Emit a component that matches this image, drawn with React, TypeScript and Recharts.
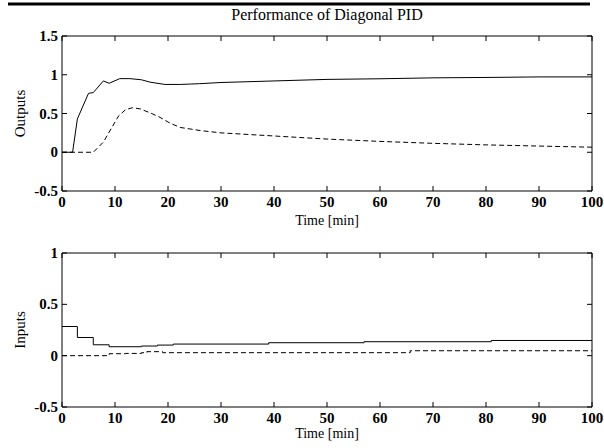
import React from 'react';
import { LineChart, Line, XAxis, YAxis } from 'recharts';

const FONT = "'Liberation Serif', 'Times New Roman', Times, serif";

// ---- data ----
const xTicks = [0, 10, 20, 30, 40, 50, 60, 70, 80, 90, 100];
const outTicks = [-0.5, 0, 0.5, 1, 1.5];
const inTicks = [-0.5, 0, 0.5, 1];

const outTime1 = [0, 2, 2.9, 5, 5.9, 7.8, 8.9, 10.9, 12.8, 15, 16.6, 19.4, 22.3, 24.2, 26, 30, 40, 50, 60, 70, 80, 90, 100];
const outVal1 = [0, 0, 0.43, 0.76, 0.77, 0.92, 0.89, 0.95, 0.95, 0.935, 0.905, 0.875, 0.875, 0.88, 0.885, 0.9, 0.92, 0.94, 0.948, 0.96, 0.965, 0.972, 0.972];

const outTime2 = [0, 5.9, 7.8, 9.4, 10.7, 12, 13.3, 14.7, 16.6, 18.5, 20.4, 22.3, 24.2, 26.1, 30, 40, 50, 60, 70, 80, 90, 100];
const outVal2 = [0, 0, 0.13, 0.32, 0.47, 0.55, 0.575, 0.56, 0.51, 0.45, 0.375, 0.32, 0.3, 0.28, 0.25, 0.21, 0.17, 0.14, 0.115, 0.095, 0.08, 0.065];

const inTime1 = [0, 2.9, 5.9, 8.9, 15, 18, 21, 39, 57, 81, 100];
const inVal1 = [0.284, 0.177, 0.106, 0.087, 0.094, 0.103, 0.113, 0.126, 0.136, 0.148, 0.148];

const inTime2 = [0, 8.9, 12, 15, 16, 19, 65.7, 100];
const inVal2 = [0, 0.019, 0.022, 0.029, 0.039, 0.029, 0.048, 0.048];

const zip = (t: number[], v: number[]) => t.map((x, i) => ({ t: x, v: v[i] }));

const TL = 5;
const TICK_FS = 15;

const BottomTick = (props: any) => {
  const { x, y, payload } = props;
  return (
    <g>
      <line x1={x} y1={y} x2={x} y2={y - TL} stroke="#000" strokeWidth={1} />
      <text x={x} y={y + 16} textAnchor="middle" fontFamily={FONT} fontSize={TICK_FS} fontWeight="bold" fill="#000">
        {payload.value}
      </text>
    </g>
  );
};
const TopTick = (props: any) => {
  const { x, y } = props;
  return <line x1={x} y1={y} x2={x} y2={y + TL} stroke="#000" strokeWidth={1} />;
};
const LeftTick = (props: any) => {
  const { x, y, payload } = props;
  return (
    <g>
      <line x1={x} y1={y} x2={x + TL} y2={y} stroke="#000" strokeWidth={1} />
      <text x={x - 4} y={y + 5} textAnchor="end" fontFamily={FONT} fontSize={TICK_FS} fontWeight="bold" fill="#000">
        {String(payload.value)}
      </text>
    </g>
  );
};
const RightTick = (props: any) => {
  const { x, y } = props;
  return <line x1={x - TL} y1={y} x2={x} y2={y} stroke="#000" strokeWidth={1} />;
};

const axisCommon = {
  type: 'number' as const,
  tickSize: 0,
  tickMargin: 0,
  interval: 0 as const,
  axisLine: { stroke: '#000', strokeWidth: 1 },
  tickLine: false,
  allowDataOverflow: true,
};

interface PanelProps {
  width: number;
  height: number;
  topH: number;
  bottomH: number;
  marginBottom: number;
  yTicks: number[];
  yLabel: string;
  series: { data: { t: number; v: number }[]; dash?: string; step?: boolean }[];
}

const Panel = ({ width, height, topH, bottomH, marginBottom, yTicks, yLabel, series }: PanelProps) => {
  const yDomain: [number, number] = [yTicks[0], yTicks[yTicks.length - 1]];
  return (
    <LineChart width={width} height={height} margin={{ top: 0, right: 0, bottom: marginBottom, left: 0 }}>
      <XAxis
        {...axisCommon}
        xAxisId="b"
        dataKey="t"
        orientation="bottom"
        domain={[0, 100]}
        ticks={xTicks}
        height={bottomH}
        tick={<BottomTick />}
        label={{
          value: 'Time [min]',
          position: 'insideBottom',
          offset: 0,
          fontFamily: FONT,
          fontSize: 14,
          fill: '#000',
        }}
      />
      <XAxis
        {...axisCommon}
        xAxisId="top"
        dataKey="t"
        orientation="top"
        domain={[0, 100]}
        ticks={xTicks}
        height={topH}
        tick={<TopTick />}
      />
      <YAxis
        {...axisCommon}
        yAxisId="l"
        orientation="left"
        domain={yDomain}
        ticks={yTicks}
        width={62}
        tick={<LeftTick />}
        label={{
          value: yLabel,
          angle: -90,
          position: 'insideLeft',
          offset: 20,
          fontFamily: FONT,
          fontSize: 15,
          fill: '#000',
          style: { textAnchor: 'middle' },
        }}
      />
      <YAxis
        {...axisCommon}
        yAxisId="r"
        orientation="right"
        domain={yDomain}
        ticks={yTicks}
        width={12}
        tick={<RightTick />}
      />
      {series.map((s, i) => (
        <Line
          key={i}
          xAxisId="b"
          yAxisId="l"
          data={s.data}
          dataKey="v"
          type={s.step ? 'stepAfter' : 'linear'}
          stroke="#000"
          strokeWidth={1}
          strokeDasharray={s.dash}
          dot={false}
          activeDot={false}
          isAnimationActive={false}
        />
      ))}
    </LineChart>
  );
};

export default function App() {
  return (
    <div style={{ position: 'absolute', left: 0, top: 0, width: 604, height: 448, background: '#fff' }}>
      <div style={{ position: 'absolute', left: 0, top: 0 }}>
        <Panel
          width={604}
          height={230}
          topH={36}
          bottomH={34}
          marginBottom={5}
          yTicks={outTicks}
          yLabel="Outputs"
          series={[
            { data: zip(outTime1, outVal1) },
            { data: zip(outTime2, outVal2), dash: '5 3' },
          ]}
        />
      </div>
      <div style={{ position: 'absolute', left: 0, top: 230 }}>
        <Panel
          width={604}
          height={218}
          topH={23}
          bottomH={31}
          marginBottom={10}
          yTicks={inTicks}
          yLabel="Inputs"
          series={[
            { data: zip(inTime1, inVal1), step: true },
            { data: zip(inTime2, inVal2), dash: '5 3', step: true },
          ]}
        />
      </div>
      <svg width={604} height={30} style={{ position: 'absolute', left: 0, top: 0, display: 'block' }}>
        <line x1={8} y1={4} x2={590} y2={4} stroke="#000" strokeWidth={3} />
        <text x={327} y={20} textAnchor="middle" fontFamily={FONT} fontSize={16} fill="#000">
          Performance of Diagonal PID
        </text>
      </svg>
    </div>
  );
}
